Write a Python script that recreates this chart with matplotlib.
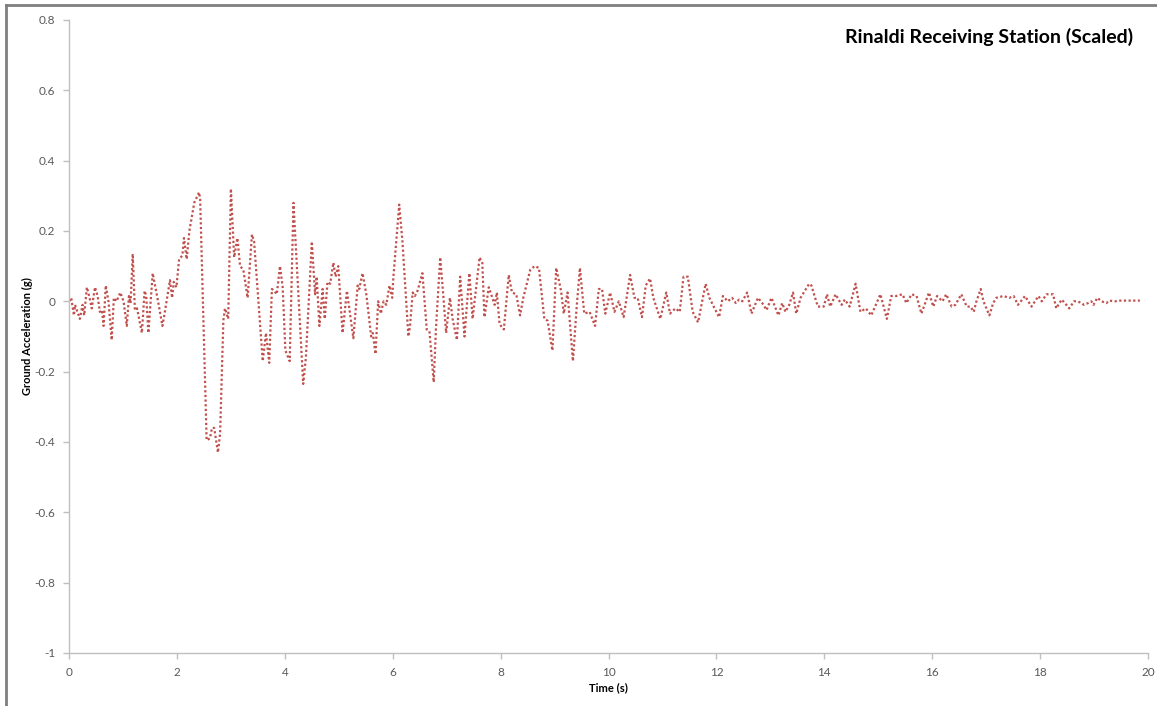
import matplotlib
matplotlib.use('Agg')
import matplotlib.pyplot as plt
from matplotlib.lines import Line2D

plt.rcParams['font.family'] = ['Lato', 'DejaVu Sans']

# Rinaldi Receiving Station (scaled)
time_s = [
    0.00, 0.04, 0.09, 0.11, 0.20, 0.25, 0.28, 0.33, 0.38, 0.42, 0.48, 0.53, 0.57, 0.61, 0.64,
    0.68, 0.73, 0.79, 0.83, 0.88, 0.95, 1.01, 1.07, 1.11, 1.14, 1.18, 1.22, 1.26, 1.35, 1.40,
    1.43, 1.47, 1.55, 1.65, 1.73, 1.76, 1.87, 1.91, 1.94, 1.99, 2.04, 2.10, 2.13, 2.18, 2.23,
    2.32, 2.41, 2.43, 2.55, 2.61, 2.65, 2.69, 2.76, 2.80, 2.86, 2.89, 2.95, 3.00, 3.06, 3.12,
    3.17, 3.23, 3.31, 3.39, 3.43, 3.59, 3.65, 3.71, 3.76, 3.80, 3.85, 3.91, 3.96, 4.01, 4.09,
    4.16, 4.34, 4.39, 4.50, 4.56, 4.59, 4.64, 4.70, 4.74, 4.79, 4.84, 4.90, 4.94, 4.99, 5.07,
    5.15, 5.27, 5.35, 5.38, 5.44, 5.51, 5.60, 5.63, 5.68, 5.73, 5.78, 5.83, 5.88, 5.94, 5.99,
    6.01, 6.12, 6.18, 6.29, 6.32, 6.37, 6.41, 6.46, 6.55, 6.63, 6.68, 6.76, 6.80, 6.88, 6.93,
    6.99, 7.06, 7.11, 7.19, 7.25, 7.33, 7.42, 7.48, 7.61, 7.66, 7.70, 7.78, 7.89, 7.93, 7.98,
    8.06, 8.15, 8.21, 8.29, 8.36, 8.42, 8.55, 8.63, 8.71, 8.81, 8.87, 8.96, 9.03, 9.12, 9.17,
    9.24, 9.34, 9.41, 9.47, 9.55, 9.65, 9.75, 9.82, 9.88, 9.94, 10.03, 10.11, 10.19, 10.28, 10.40,
    10.48, 10.54, 10.62, 10.69, 10.77, 10.83, 10.96, 11.07, 11.14, 11.24, 11.32, 11.39, 11.47, 11.56, 11.66,
    11.80, 11.87, 11.95, 12.05, 12.12, 12.21, 12.29, 12.36, 12.42, 12.48, 12.57, 12.65, 12.77, 12.85, 12.93,
    13.02, 13.15, 13.22, 13.28, 13.35, 13.42, 13.48, 13.56, 13.72, 13.76, 13.88, 13.99, 14.05, 14.11, 14.21,
    14.32, 14.38, 14.47, 14.58, 14.67, 14.77, 14.87, 14.97, 15.04, 15.16, 15.24, 15.33, 15.45, 15.52, 15.62,
    15.71, 15.80, 15.94, 16.02, 16.09, 16.19, 16.26, 16.36, 16.43, 16.54, 16.64, 16.71, 16.77, 16.82, 16.90,
    16.95, 17.06, 17.13, 17.19, 17.32, 17.43, 17.51, 17.59, 17.72, 17.84, 17.97, 18.03, 18.12, 18.24, 18.30,
    18.40, 18.46, 18.54, 18.63, 18.69, 18.77, 18.81, 18.89, 18.95, 18.99, 19.06, 19.14, 19.23, 19.28, 19.39,
    19.48, 19.60, 19.85,
]
accel_g = [
    0.00, 0.01, -0.04, -0.01, -0.05, -0.01, -0.04, 0.04, 0.01, -0.02, 0.04, 0.015, -0.03, -0.025, -0.07,
    0.045, 0.00, -0.11, 0.01, 0.00, 0.025, 0.00, -0.07, 0.015, -0.005, 0.135, -0.025, -0.02, -0.09, 0.03,
    0.015, -0.09, 0.08, 0.00, -0.07, -0.045, 0.06, 0.01, 0.055, 0.04, 0.12, 0.13, 0.18, 0.12, 0.20,
    0.28, 0.31, 0.29, -0.395, -0.39, -0.36, -0.36, -0.43, -0.375, -0.055, -0.02, -0.05, 0.32, 0.125, 0.18,
    0.10, 0.09, 0.01, 0.19, 0.17, -0.17, -0.09, -0.175, 0.035, 0.03, 0.02, 0.10, 0.04, -0.14, -0.17,
    0.28, -0.235, -0.16, 0.17, 0.02, 0.07, -0.07, 0.035, -0.05, 0.055, 0.05, 0.11, 0.07, 0.10, -0.09,
    0.03, -0.105, 0.045, 0.035, 0.08, 0.02, -0.10, -0.09, -0.15, 0.00, -0.035, 0.00, -0.01, 0.045, 0.01,
    0.065, 0.275, 0.17, -0.10, -0.07, 0.025, 0.015, 0.03, 0.08, -0.08, -0.085, -0.23, -0.08, 0.125, 0.03,
    -0.09, 0.01, -0.05, -0.11, 0.07, -0.10, 0.08, -0.05, 0.125, 0.11, -0.045, 0.04, -0.01, 0.025, -0.065,
    -0.08, 0.075, 0.025, 0.02, -0.04, 0.01, 0.09, 0.10, 0.095, -0.05, -0.055, -0.14, 0.095, 0.03, -0.035,
    0.025, -0.17, -0.015, 0.095, -0.035, -0.03, -0.07, 0.035, 0.035, -0.035, 0.025, -0.03, 0.00, -0.045, 0.075,
    0.01, 0.01, -0.045, 0.045, 0.065, 0.01, -0.05, 0.025, -0.035, -0.02, -0.03, 0.07, 0.07, -0.03, -0.06,
    0.05, 0.01, -0.015, -0.045, 0.015, 0.00, 0.01, -0.005, 0.005, 0.00, 0.025, -0.035, 0.01, -0.005, -0.025,
    0.01, -0.04, -0.005, -0.03, -0.01, 0.025, -0.035, 0.01, 0.05, 0.045, -0.015, -0.015, 0.02, -0.015, 0.02,
    -0.01, 0.005, -0.015, 0.05, -0.03, -0.02, -0.04, -0.005, 0.02, -0.05, 0.015, 0.015, 0.02, -0.005, 0.02,
    0.015, -0.035, 0.025, -0.015, 0.015, 0.00, 0.02, -0.015, -0.01, 0.02, -0.015, -0.015, -0.03, 0.00, 0.035,
    0.00, -0.04, -0.005, 0.01, 0.015, 0.01, 0.015, -0.01, 0.015, -0.015, 0.015, 0.00, 0.02, 0.02, -0.02,
    0.005, -0.005, -0.02, 0.00, 0.00, -0.005, -0.01, -0.005, 0.00, -0.01, 0.01, 0.00, -0.005, 0.002, 0.00,
    0.002, 0.002, 0.002,
]

x_ticks = [0, 2, 4, 6, 8, 10, 12, 14, 16, 18, 20]
y_ticks = [-1, -0.8, -0.6, -0.4, -0.2, 0, 0.2, 0.4, 0.6, 0.8]
y_labels = ['-1', '-0.8', '-0.6', '-0.4', '-0.2', '0', '0.2', '0.4', '0.6', '0.8']

fig = plt.figure(figsize=(11.57, 7.06), dpi=100)
ax = fig.add_axes([0.0597, 0.0751, 0.9325, 0.8966])

ax.plot(time_s, accel_g, color='#C0504D', lw=1.6, linestyle=(0, (1.0, 1.1)),
        dash_capstyle='butt')

ax.set_xlim(0, 20)
ax.set_ylim(-1, 0.8)
ax.set_xticks(x_ticks)
ax.set_yticks(y_ticks)
ax.set_yticklabels(y_labels)

for s in ['top', 'right']:
    ax.spines[s].set_visible(False)
for s in ['left', 'bottom']:
    ax.spines[s].set_color('#BFBFBF')
    ax.spines[s].set_linewidth(1.0)
ax.tick_params(direction='out', length=4, width=1, color='#BFBFBF',
               labelcolor='#595959', labelsize=8.5, pad=6)

ax.set_xlabel('Time (s)', fontsize=8, fontweight='bold', color='#000000', labelpad=3)
ax.set_ylabel('Ground Acceleration (g)', fontsize=8, fontweight='bold', color='#000000', labelpad=1)

fig.text(0.979, 0.947, 'Rinaldi Receiving Station (Scaled)', ha='right', va='center',
         fontsize=14, fontweight='bold', color='#000000')

# outer chart frame (left and top edges visible)
fig.add_artist(Line2D([6 / 1157, 6 / 1157], [0, 1 - 5 / 706], color='#7F7F7F', lw=2,
                      transform=fig.transFigure))
fig.add_artist(Line2D([6 / 1157, 1], [1 - 5 / 706, 1 - 5 / 706], color='#7F7F7F', lw=2,
                      transform=fig.transFigure))

fig.savefig('out.png', dpi=100, facecolor='white')
